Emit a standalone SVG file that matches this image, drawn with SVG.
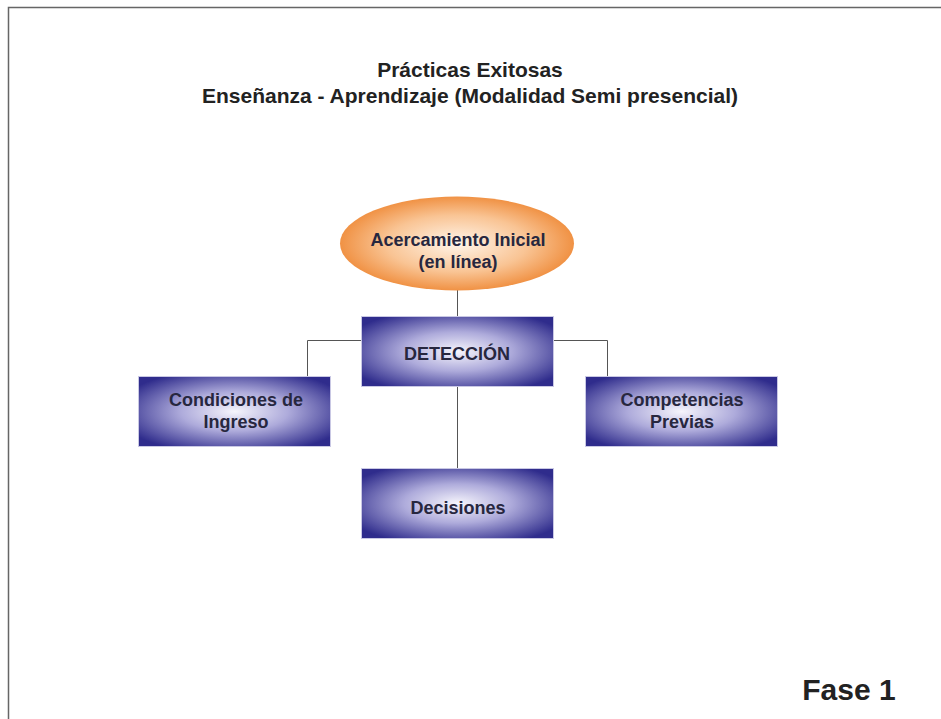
<svg xmlns="http://www.w3.org/2000/svg" width="941" height="719" viewBox="0 0 941 719">
<defs>
<radialGradient id="gBox" cx="50%" cy="50%" r="62%">
<stop offset="0" stop-color="#f6f5fc"/>
<stop offset="0.45" stop-color="#aeabdb"/>
<stop offset="1" stop-color="#2f2c8c"/>
</radialGradient>
<radialGradient id="gEll" cx="50%" cy="50%" r="55%">
<stop offset="0" stop-color="#fff5ea"/>
<stop offset="0.55" stop-color="#f9c494"/>
<stop offset="1" stop-color="#ee8530"/>
</radialGradient>
</defs>
<style>
.box{fill:url(#gBox);stroke:#c9c8e4;stroke-width:1}
.t{font-family:"Liberation Sans",Arial,sans-serif;font-weight:bold;font-size:18px;fill:#27273f;text-anchor:middle}
.title{font-family:"Liberation Sans",Arial,sans-serif;font-weight:bold;font-size:21px;fill:#222;text-anchor:middle}
.conn{stroke:#555;stroke-width:1;fill:none}
</style>
<rect x="0" y="0" width="941" height="719" fill="#fff"/>
<path d="M8.5,719 V7.5 H941" stroke="#666" stroke-width="1.5" fill="none"/>
<text class="title" x="470" y="77">Prácticas Exitosas</text>
<text class="title" x="470" y="103">Enseñanza - Aprendizaje (Modalidad Semi presencial)</text>
<g id="connectors">
<line class="conn" x1="457.5" y1="290" x2="457.5" y2="316"/>
<polyline class="conn" points="361,340.5 307.5,340.5 307.5,376"/>
<polyline class="conn" points="553,340.5 607.5,340.5 607.5,376"/>
<line class="conn" x1="457.5" y1="387" x2="457.5" y2="468"/>
</g>
<g id="acercamiento">
<ellipse cx="457" cy="243.5" rx="117" ry="47" fill="url(#gEll)"/>
<text class="t" x="458" y="246">Acercamiento Inicial</text>
<text class="t" x="458" y="268">(en línea)</text>
</g>
<g id="deteccion">
<rect class="box" x="361.5" y="316.5" width="192" height="70"/>
<text class="t" x="457" y="360">DETECCIÓN</text>
</g>
<g id="condiciones">
<rect class="box" x="138.5" y="376.5" width="192" height="70"/>
<text class="t" x="236" y="406">Condiciones de</text>
<text class="t" x="236" y="428">Ingreso</text>
</g>
<g id="competencias">
<rect class="box" x="585.5" y="376.5" width="192" height="70"/>
<text class="t" x="682" y="406">Competencias</text>
<text class="t" x="682" y="428">Previas</text>
</g>
<g id="decisiones">
<rect class="box" x="361.5" y="468.5" width="192" height="70"/>
<text class="t" x="458" y="514">Decisiones</text>
</g>
<text x="849" y="700" font-family="'Liberation Sans',Arial,sans-serif" font-weight="bold" font-size="30" fill="#222" text-anchor="middle">Fase 1</text>
</svg>
